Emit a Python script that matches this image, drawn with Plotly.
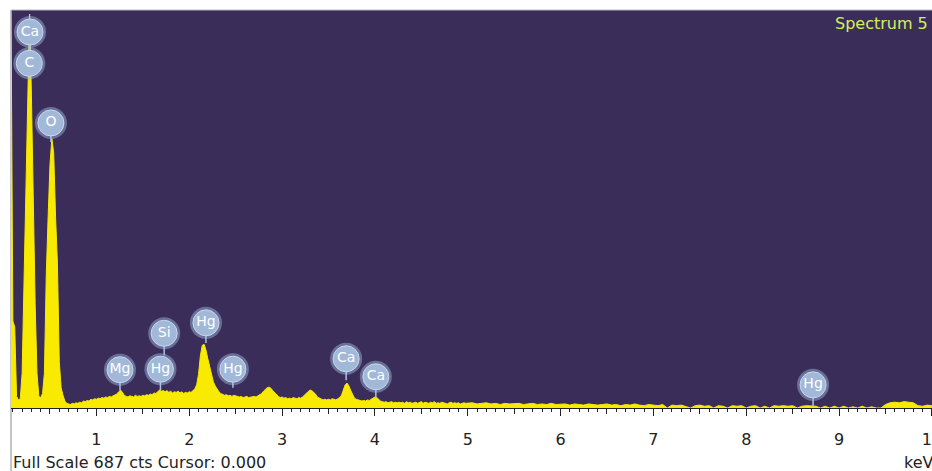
import numpy as np
import plotly.graph_objects as go

# ---- spectrum counts, 0.02 keV channels from 0.08 keV to 4.98 keV ----
counts_low = [
    687, 150, 140, 20, 14, 16, 60, 230, 380, 560,      # 0.08-0.26
    680, 540, 330, 180, 60, 20, 18, 25, 60, 230,       # 0.28-0.46
    330, 420, 465, 440, 330, 250, 80, 35, 22, 12,      # 0.48-0.66
    8, 7, 6, 8, 7, 9, 8, 10, 9, 12,                    # 0.68-0.86
    11, 13, 12, 15, 14, 16, 15, 17, 16, 18,            # 0.88-1.06
    17, 19, 18, 20, 19, 21, 22, 24, 28, 31,            # 1.08-1.26
    27, 22, 20, 19, 21, 20, 19, 22, 20, 21,            # 1.28-1.46
    20, 22, 21, 23, 22, 24, 23, 26, 25, 28,            # 1.48-1.66
    31, 29, 30, 28, 30, 27, 29, 26, 28, 27,            # 1.68-1.86
    29, 26, 28, 25, 27, 26, 28, 27, 30, 33,            # 1.88-2.06
    40, 58, 90, 108, 110, 100, 85, 70, 55, 45,         # 2.08-2.26
    38, 32, 28, 25, 24, 22, 23, 21, 22, 20,            # 2.28-2.46
    22, 21, 20, 19, 20, 18, 19, 20, 18, 19,            # 2.48-2.66
    19, 20, 19, 21, 22, 25, 29, 33, 35, 36,            # 2.68-2.86
    34, 30, 26, 22, 20, 18, 19, 17, 18, 16,            # 2.88-3.06
    17, 16, 18, 17, 16, 18, 17, 19, 22, 26,            # 3.08-3.26
    29, 31, 30, 27, 24, 19, 17, 15, 14, 15,            # 3.28-3.46
    14, 15, 14, 16, 15, 14, 16, 18, 22, 30,            # 3.48-3.66
    40, 43, 38, 30, 22, 17, 15, 14, 13, 12,            # 3.68-3.86
    13, 12, 14, 13, 15, 17, 19, 18, 15, 12,            # 3.88-4.06
    11, 10, 11, 9, 10, 11, 9, 10, 9, 10,               # 4.08-4.26
    9, 10, 8, 11, 9, 10, 8, 9, 10, 8,                  # 4.28-4.46
    9, 11, 8, 10, 9, 8, 10, 9, 11, 8,                  # 4.48-4.66
    9, 8, 10, 9, 8, 7, 9, 10, 8, 9,                    # 4.68-4.86
    8, 9, 7, 8, 9, 8,                                  # 4.88-4.98
]

# ---- spectrum counts, 0.05 keV channels from 5.00 keV to 10.00 keV ----
counts_high = [
    8, 9, 7, 8, 9, 7, 8, 6, 8, 7,                      # 5.00-5.45
    7, 8, 6, 7, 8, 6, 7, 6, 8, 6,                      # 5.50-5.95
    6, 7, 5, 7, 6, 5, 7, 6, 5, 6,                      # 6.00-6.45
    7, 5, 6, 4, 6, 5, 7, 5, 4, 6,                      # 6.50-6.95
    5, 4, 6, 0, 5, 4, 5, 3, 0, 4,                      # 7.00-7.45
    5, 3, 4, 0, 4, 3, 0, 4, 3, 4,                      # 7.50-7.95
    0, 3, 4, 0, 3, 0, 4, 3, 4, 3,                      # 8.00-8.45
    4, 0, 3, 4, 3, 3, 0, 3, 0, 3,                      # 8.50-8.95
    0, 3, 0, 2, 0, 3, 0, 2, 0, 0,                      # 9.00-9.45
    6, 9, 10, 9, 11, 10, 9, 4, 3, 5,                   # 9.50-9.95
    4,                                                 # 10.00
]

energy_low = np.round(0.08 + 0.02 * np.arange(len(counts_low)), 3)
energy_high = np.round(5.00 + 0.05 * np.arange(len(counts_high)), 3)
energy = np.concatenate([energy_low, energy_high])
counts = np.concatenate([counts_low, counts_high])

# ---- element labels ----
label_names = ["Ca", "C", "O", "Mg", "Hg", "Si", "Hg", "Hg", "Ca", "Ca", "Hg"]
label_energy = [0.285, 0.277, 0.51, 1.254, 1.69, 1.73, 2.18, 2.47, 3.69, 4.01, 8.72]
label_counts = [649, 595, 492, 66, 67, 129, 147, 67, 85, 54, 40]
stem_counts = [600, 566, 459, 31, 31, 91, 112, 35, 48, 17, 2]

full_scale = 687
x_range = [0.08, 10.001]

BG = "#3b2d5a"
YELLOW = "#f8ea00"
FONT = "DejaVu Sans"

fig = go.Figure()

fig.add_trace(go.Scatter(
    x=energy, y=counts, mode="lines", fill="tozeroy",
    line=dict(color=YELLOW, width=1), fillcolor=YELLOW,
    hoverinfo="skip", showlegend=False,
))

# stems
sx, sy = [], []
for e, lc, sc in zip(label_energy, label_counts, stem_counts):
    sx += [e, e, None]
    sy += [lc, sc, None]
fig.add_trace(go.Scatter(
    x=sx, y=sy, mode="lines", line=dict(color="#a9c3e2", width=1.5),
    hoverinfo="skip", showlegend=False,
))

# glow
fig.add_trace(go.Scatter(
    x=label_energy, y=label_counts, mode="markers",
    marker=dict(size=32, color="rgba(165,192,228,0.45)", line=dict(width=0)),
    hoverinfo="skip", showlegend=False,
))
# label circles
fig.add_trace(go.Scatter(
    x=label_energy, y=label_counts, mode="markers+text",
    text=label_names, textposition="middle center",
    textfont=dict(family=FONT, size=14, color="#ffffff"),
    marker=dict(size=26, color="#a1b8d8", line=dict(width=1, color="#c9d8ec")),
    hoverinfo="skip", showlegend=False,
))

# invisible trace for the half-keV tick axis
fig.add_trace(go.Scatter(x=x_range, y=[0, 0], xaxis="x2", mode="lines",
                         line=dict(width=0), hoverinfo="skip", showlegend=False))

fig.update_layout(
    width=932, height=471, autosize=False,
    margin=dict(l=11, r=0, t=10, b=63),
    paper_bgcolor="#ffffff", plot_bgcolor=BG,
    font=dict(family=FONT, size=16, color="#222222"),
    xaxis=dict(
        range=x_range, showgrid=False, zeroline=False, automargin=False,
        showline=True, linecolor="#222222", linewidth=1,
        ticks="outside", ticklen=7, tickwidth=1, tickcolor="#222222",
        tick0=0, dtick=1, ticklabelstandoff=10, ticklabeloverflow="allow",
        tickfont=dict(family=FONT, size=16, color="#222222"),
        minor=dict(ticks="outside", ticklen=3, tick0=0, dtick=0.1,
                   tickcolor="#222222", tickwidth=1),
    ),
    xaxis2=dict(
        range=x_range, overlaying="x", side="bottom", showgrid=False,
        zeroline=False, showline=False, showticklabels=False, automargin=False,
        ticks="outside", ticklen=5, tickwidth=1, tickcolor="#222222",
        tick0=0.5, dtick=1,
    ),
    yaxis=dict(range=[0, full_scale], visible=False, fixedrange=True),
    shapes=[
        dict(type="line", xref="paper", yref="paper", x0=0, x1=0,
             y0=-0.16, y1=1, line=dict(color="#8c8c8c", width=1), layer="below"),
        dict(type="line", xref="paper", yref="paper", x0=0, x1=1,
             y0=1, y1=1, line=dict(color="#b8b4c4", width=1), layer="below"),
    ],
    annotations=[
        dict(text="Spectrum 5", xref="paper", yref="paper", x=0.8925, y=0.965,
             xanchor="left", yanchor="middle", showarrow=False,
             font=dict(family=FONT, size=16, color="#d4ef5c")),
        dict(text="Full Scale %d cts Cursor: 0.000" % full_scale,
             xref="paper", yref="paper", x=0, y=-0.138, xshift=0,
             xanchor="left", yanchor="middle", showarrow=False,
             font=dict(family=FONT, size=16, color="#222222")),
        dict(text="keV", xref="paper", yref="paper", x=0.967, y=-0.138,
             xanchor="left", yanchor="middle", showarrow=False,
             font=dict(family=FONT, size=16, color="#222222")),
    ],
)

fig.write_html(
    "out.html",
    config={"displayModeBar": False},
    post_script="document.body.style.margin='0';document.body.style.overflow='hidden';",
)
